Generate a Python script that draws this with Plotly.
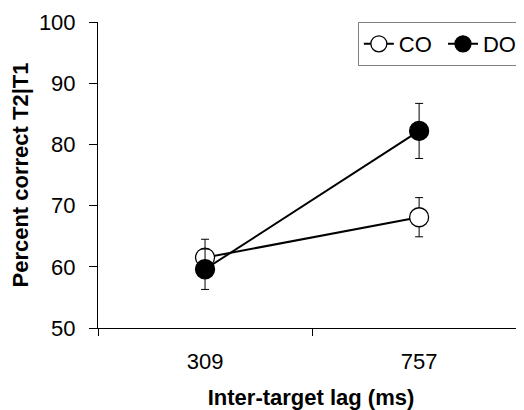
import plotly.graph_objects as go

lags = ["309", "757"]
co_mean = [61.5, 68.1]
co_err = [3.0, 3.2]
do_mean = [59.6, 82.2]
do_err = [3.3, 4.5]

fig = go.Figure()
fig.add_trace(go.Scatter(
    x=lags, y=co_mean, name="CO\u00a0", mode="lines+markers",
    line=dict(color="black", width=2),
    marker=dict(size=19, color="white", line=dict(color="black", width=1.3)),
    error_y=dict(type="data", array=co_err, color="black", thickness=1, width=4),
))
fig.add_trace(go.Scatter(
    x=lags, y=do_mean, name="DO", mode="lines+markers",
    line=dict(color="black", width=2),
    marker=dict(size=19, color="black", line=dict(color="black", width=1.3)),
    error_y=dict(type="data", array=do_err, color="black", thickness=1, width=4),
))

font = "Liberation Sans, Arial, sans-serif"
fig.update_layout(
    width=516, height=402,
    margin=dict(l=90, r=0, t=14, b=82),
    paper_bgcolor="white", plot_bgcolor="white",
    font=dict(family=font, size=21, color="black"),
    showlegend=True,
    legend=dict(
        orientation="h", x=0.61, y=1, xanchor="left", yanchor="top",
        bordercolor="#808080", borderwidth=1, bgcolor="white",
        font=dict(size=22), itemwidth=30, tracegroupgap=0,
    ),
    xaxis=dict(
        type="category", range=[-0.5, 1.49], tickson="boundaries",
        showline=True, linecolor="black", linewidth=1,
        ticks="outside", ticklen=7, tickcolor="black",
        showgrid=False, zeroline=False,
        tickfont=dict(size=22), ticklabelstandoff=14,
        title=dict(text="<b>Inter-target lag (ms)</b>", font=dict(size=22), standoff=19),
    ),
    yaxis=dict(
        range=[50, 100], dtick=10, tick0=50,
        showline=True, linecolor="black", linewidth=1,
        ticks="outside", ticklen=8, tickcolor="black",
        showgrid=False, zeroline=False,
        tickfont=dict(size=22), ticklabelstandoff=9,
        title=dict(text="<b>Percent correct T2|T1</b>", font=dict(size=22), standoff=5),
    ),
)

fig.write_html("out.html")
